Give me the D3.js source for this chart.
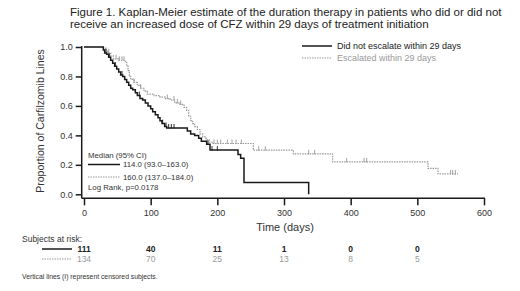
<!DOCTYPE html>
<html><head><meta charset="utf-8">
<script src="https://cdn.jsdelivr.net/npm/d3@7"></script>
<style>body{margin:0;background:#fff}svg{display:block;font-family:"Liberation Sans",Arial,sans-serif}</style>
</head><body><svg id="c" width="520" height="291"></svg>
<script>
const titleLines = ["Figure 1. Kaplan-Meier estimate of the duration therapy in patients who did or did not",
  "receive an increased dose of CFZ within 29 days of treatment initiation"];
const seriesNames = ["Did not escalate within 29 days", "Escalated within 29 days"];
const xTicks = [0,100,200,300,400,500,600];
const yTicks = [0,0.2,0.4,0.6,0.8,1.0];
// Kaplan-Meier steps [day, survival]
const noEscSteps = [[0,1],[29,0.98],[31,0.96],[34,0.95],[37,0.93],[40,0.91],[43,0.89],[46,0.87],[49,0.85],[52,0.83],[55,0.81],[58,0.80],[61,0.78],[64,0.76],[67,0.74],[70,0.72],[73,0.71],[77,0.69],[80,0.67],[84,0.65],[88,0.64],[92,0.62],[96,0.60],[100,0.58],[103,0.56],[107,0.54],[111,0.52],[114,0.50],[117,0.48],[121,0.46],[124,0.45],[155,0.43],[160,0.41],[166,0.40],[172,0.38],[176,0.36],[184,0.34],[189,0.30],[231,0.27],[235,0.245],[240,0.08],[337,0.0]];
const escSteps = [[0,1],[29,0.99],[32,0.97],[36,0.96],[40,0.94],[44,0.92],[52,0.91],[62,0.90],[64,0.87],[66,0.84],[68,0.80],[70,0.78],[75,0.76],[80,0.74],[85,0.72],[90,0.70],[95,0.68],[105,0.67],[114,0.66],[122,0.65],[129,0.64],[136,0.62],[144,0.61],[150,0.59],[154,0.57],[157,0.53],[160,0.50],[163,0.48],[166,0.46],[170,0.44],[174,0.41],[178,0.39],[183,0.37],[188,0.355],[192,0.345],[254,0.30],[314,0.275],[373,0.22],[516,0.176],[531,0.138],[561,0.138]];
const noEscCensor = [33,38,47,57,83,118,123,127,131,135,186,192,200];
const escCensor = [33,37,48,53,57,60,75,85,125,135,140,145,195,200,205,215,222,228,236,262,272,337,346,394,420,424,550,553,557];
const medianLabels = ["114.0 (93.0\u2013163.0)", "160.0 (137.0\u2013184.0)"];
const riskDays = [0,100,200,300,400,500];
const riskNoEsc = [111,40,11,1,0,0];
const riskEsc = [134,70,25,13,8,5];

const svg = d3.select("#c");
const BLK = "#1a1a1a", GRY = "#9a9a9a";
const x = d3.scaleLinear().domain([0,600]).range([84,484]);
const y = d3.scaleLinear().domain([0,1]).range([194.3,47]);
const axY = 198.3, axX = 81.7;

// title
svg.append("g").selectAll("text").data(titleLines).join("text")
  .attr("x",70).attr("y",(d,i)=>15.5+i*12.5).attr("font-size",11.5).attr("fill","#222").text(d=>d);

// y axis
const ya = svg.append("g").attr("transform",`translate(${axX},0)`)
  .call(d3.axisLeft(y).tickValues(yTicks).tickFormat(d3.format(".1f")).tickSize(6).tickPadding(3));
ya.select(".domain").remove();
ya.selectAll("line").attr("stroke",BLK).attr("stroke-width",1.5);
ya.selectAll("text").attr("font-size",9).attr("fill","#333").attr("font-family","Liberation Sans, Arial");
svg.append("line").attr("x1",axX).attr("x2",axX).attr("y1",y(1)-1).attr("y2",axY).attr("stroke",BLK).attr("stroke-width",1.5);

// x axis
const xa = svg.append("g").attr("transform",`translate(0,${axY})`)
  .call(d3.axisBottom(x).tickValues(xTicks).tickSize(7).tickPadding(4));
xa.select(".domain").remove();
xa.selectAll("line").attr("stroke",BLK).attr("stroke-width",1.5);
xa.selectAll("text").attr("font-size",9).attr("fill","#333").attr("font-family","Liberation Sans, Arial");
svg.append("line").attr("x1",axX).attr("x2",x(600)+1).attr("y1",axY).attr("y2",axY).attr("stroke",BLK).attr("stroke-width",1.5);

svg.append("text").attr("x",285).attr("y",231).attr("text-anchor","middle").attr("font-size",11).attr("fill","#333").text("Time (days)");
svg.append("text").attr("transform","translate(44,121) rotate(-90)").attr("text-anchor","middle").attr("font-size",10.5).attr("fill","#333").text("Proportion of Carfilzomib Lines");

// curves
const line = d3.line().x(d=>x(d[0])).y(d=>y(d[1])).curve(d3.curveStepAfter);
svg.append("path").datum(escSteps).attr("d",line).attr("fill","none").attr("stroke",GRY).attr("stroke-width",1.2).attr("stroke-dasharray","1.5,1");
svg.append("path").datum(noEscSteps).attr("d",line).attr("fill","none").attr("stroke",BLK).attr("stroke-width",1.5);

function survAt(steps,t){let s=1;for(const p of steps){if(p[0]<=t)s=p[1];else break;}return s;}
svg.append("g").selectAll("line").data(escCensor).join("line")
  .attr("x1",d=>x(d)).attr("x2",d=>x(d)).attr("y1",d=>y(survAt(escSteps,d))-4).attr("y2",d=>y(survAt(escSteps,d))+0.5)
  .attr("stroke",GRY).attr("stroke-width",0.9);
svg.append("g").selectAll("line").data(noEscCensor).join("line")
  .attr("x1",d=>x(d)).attr("x2",d=>x(d)).attr("y1",d=>y(survAt(noEscSteps,d))-4).attr("y2",d=>y(survAt(noEscSteps,d))+0.5)
  .attr("stroke",BLK).attr("stroke-width",0.9);

// top-right legend
const lg = svg.append("g");
[0,1].forEach(i=>{
  const yy = 46+i*12;
  lg.append("line").attr("x1",302).attr("x2",332).attr("y1",yy).attr("y2",yy)
    .attr("stroke",i?GRY:BLK).attr("stroke-width",i?1.2:1.5).attr("stroke-dasharray",i?"1.5,1":null);
  lg.append("text").attr("x",337).attr("y",yy+3.2).attr("font-size",9).attr("fill",i?GRY:"#222").text(seriesNames[i]);
});

// inner legend
const il = svg.append("g");
il.append("text").attr("x",88).attr("y",158).attr("font-size",7.8).attr("fill","#333").text("Median (95% CI)");
[0,1].forEach(i=>{
  const yy = 164.5+i*12.5;
  il.append("line").attr("x1",88).attr("x2",120).attr("y1",yy).attr("y2",yy)
    .attr("stroke",i?GRY:BLK).attr("stroke-width",i?1.2:1.5).attr("stroke-dasharray",i?"1.5,1":null);
  il.append("text").attr("x",123).attr("y",yy+2.8).attr("font-size",7.8).attr("fill","#333").text(medianLabels[i]);
});
il.append("text").attr("x",88).attr("y",190).attr("font-size",7.8).attr("fill","#333").text("Log Rank, p=0.0178");

// subjects at risk
svg.append("text").attr("x",22).attr("y",242).attr("font-size",8.5).attr("fill","#333").text("Subjects at risk:");
[[riskNoEsc,BLK],[riskEsc,GRY]].forEach(([vals,col],i)=>{
  const yy = 249+i*10;
  svg.append("line").attr("x1",42).attr("x2",72).attr("y1",yy).attr("y2",yy)
    .attr("stroke",col).attr("stroke-width",i?1.2:1.5).attr("stroke-dasharray",i?"1.5,1":null);
  svg.append("g").selectAll("text").data(vals).join("text")
    .attr("x",(d,j)=>x(riskDays[j])).attr("y",yy+3).attr("text-anchor","middle")
    .attr("font-size",8.5).attr("fill",i?GRY:"#222").attr("font-weight",i?null:"bold").text(d=>d);
});
svg.append("text").attr("x",22).attr("y",278.5).attr("font-size",6.8).attr("fill","#333").text("Vertical lines (I) represent censored subjects.");
</script></body></html>
